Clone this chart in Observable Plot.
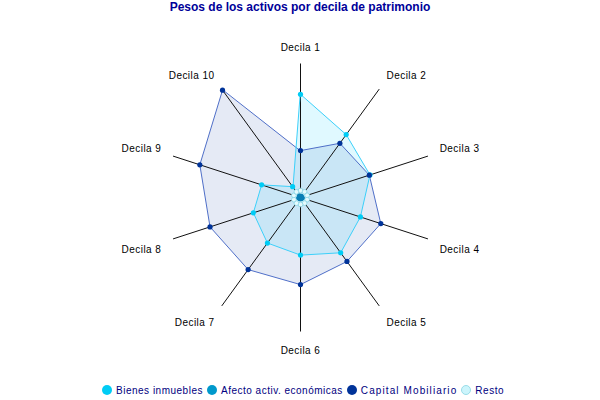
<!DOCTYPE html>
<html>
<head>
<meta charset="utf-8">
<script src="https://cdn.jsdelivr.net/npm/d3@7"></script>
<script src="https://cdn.jsdelivr.net/npm/@observablehq/plot@0.6"></script>
<style>
  html, body { margin: 0; padding: 0; background: #fff; }
  #wrap { width: 600px; height: 400px; position: relative; overflow: hidden; }
  #title { height: 16px; line-height: 15px; text-align: center; font: bold 12px "Liberation Sans", Arial, sans-serif; color: #000099; }
  #legend { height: 16px; line-height: 16px; display: flex; justify-content: center; align-items: center; font: 10px "Liberation Sans", Arial, sans-serif; letter-spacing: 0.5px; color: #000080; padding-left: 6px; }
  .item { display: flex; align-items: center; margin-right: 4px; }
  .item:last-child { margin-right: 0; }
  .sw { width: 10px; height: 10px; border-radius: 50%; margin-right: 4px; box-sizing: border-box; }
  svg { display: block; }
</style>
</head>
<body>
<div id="wrap">
  <div id="title">Pesos de los activos por decila de patrimonio</div>
  <div id="chart"></div>
  <div id="legend"></div>
</div>
<script>
const deciles = ["Decila 1","Decila 2","Decila 3","Decila 4","Decila 5","Decila 6","Decila 7","Decila 8","Decila 9","Decila 10"];
const bienesInmuebles = [0.77, 0.58, 0.545, 0.47, 0.51, 0.43, 0.42, 0.37, 0.305, 0.10];
const afectoActiv = [0.015, 0.015, 0.015, 0.02, 0.015, 0.015, 0.015, 0.02, 0.015, 0.02];
const capitalMobiliario = [0.35, 0.50, 0.54, 0.63, 0.59, 0.65, 0.665, 0.71, 0.79, 0.99];
const resto = [0.052, 0.052, 0.052, 0.052, 0.052, 0.052, 0.052, 0.052, 0.052, 0.052];
const seriesNames = ["Bienes inmuebles", "Afecto activ. económicas", "Capital Mobiliario", "Resto"];
const seriesColors = ["#00ccf5", "#0099cc", "#003399", "#ccf5fc"];

const n = deciles.length;
const angle = i => i * 2 * Math.PI / n;
const pts = vals => vals.map((v, i) => ({decila: deciles[i], x: v * Math.sin(angle(i)), y: v * Math.cos(angle(i))}));

const axes = deciles.map((d, i) => ({decila: d, x1: 0, y1: 0, x2: Math.sin(angle(i)), y2: Math.cos(angle(i))}));
const L = 1.092;
const labels = deciles.map((d, i) => {
  const c = Math.cos(angle(i)), s = Math.sin(angle(i));
  return {decila: d, i, x: L * s, y: L * c + Math.sign(Math.round(c * 1000)) * 0.04 - 0.015, side: Math.abs(s) < 0.01 ? "m" : (s > 0 ? "r" : "l")};
});

const pB = pts(bienesInmuebles), pA = pts(afectoActiv), pC = pts(capitalMobiliario), pR = pts(resto);
const R = 134, W = 600, H = 366, cy = 181;
const font = {fontFamily: "'Liberation Sans', Arial, sans-serif", fontSize: 10, fill: "#000"};

const chart = Plot.plot({
  width: W, height: H,
  margin: 0,
  x: {domain: [-W / 2 / R, W / 2 / R], range: [0, W], axis: null},
  y: {domain: [-(H - cy) / R, cy / R], range: [H, 0], axis: null},
  marks: [
    Plot.line(pC, {x: "x", y: "y", curve: "linear-closed", fill: "#003399", fillOpacity: 0.1, stroke: "none"}),
    Plot.line(pB, {x: "x", y: "y", curve: "linear-closed", fill: "#00ccff", fillOpacity: 0.12, stroke: "none"}),
    Plot.link(axes, {x1: "x1", y1: "y1", x2: "x2", y2: "y2", stroke: "#111", strokeWidth: 1}),
    Plot.line(pC, {x: "x", y: "y", curve: "linear-closed", stroke: "#4f6fc8", strokeWidth: 1}),
    Plot.line(pB, {x: "x", y: "y", curve: "linear-closed", stroke: "#3cd0fa", strokeWidth: 1}),
    Plot.line(pR, {x: "x", y: "y", curve: "linear-closed", fill: "#e0f8fd", stroke: "#a8e4ee", strokeWidth: 0.8}),
    Plot.line(pA, {x: "x", y: "y", curve: "linear-closed", fill: "#2a8fc0", stroke: "#0099cc", strokeWidth: 0.8}),
    Plot.dot(pA, {x: "x", y: "y", r: 2, fill: "#0a7fb5", stroke: "none"}),
    Plot.dot(pR, {x: "x", y: "y", r: 2.4, fill: "#e4fafd", stroke: "#88d4e4", strokeWidth: 0.8}),
    Plot.dot(pB, {x: "x", y: "y", r: 2.6, fill: "#00ccf5", stroke: "none"}),
    Plot.dot(pC, {x: "x", y: "y", r: 2.6, fill: "#003399", stroke: "none"}),
    Plot.text(labels.filter(d => d.side === "m"), {x: "x", y: "y", text: "decila", textAnchor: "middle", lineAnchor: "middle", ...font}),
    Plot.text(labels.filter(d => d.side === "r"), {x: "x", y: "y", text: "decila", textAnchor: "start", lineAnchor: "middle", ...font}),
    Plot.text(labels.filter(d => d.side === "l"), {x: "x", y: "y", text: "decila", textAnchor: "end", lineAnchor: "middle", ...font})
  ]
});
chart.querySelectorAll("text").forEach(t => t.setAttribute("letter-spacing", "0.45"));
document.getElementById("chart").appendChild(chart);

const legend = document.getElementById("legend");
seriesNames.forEach((name, i) => {
  const item = document.createElement("div");
  item.className = "item";
  const sw = document.createElement("div");
  sw.className = "sw";
  sw.style.background = seriesColors[i];
  if (i === 3) sw.style.border = "1px solid #99dde8";
  const tx = document.createElement("span");
  tx.textContent = name;
  if (i === 2) tx.style.letterSpacing = "1.1px";
  item.appendChild(sw);
  item.appendChild(tx);
  legend.appendChild(item);
});
</script>
</body>
</html>
